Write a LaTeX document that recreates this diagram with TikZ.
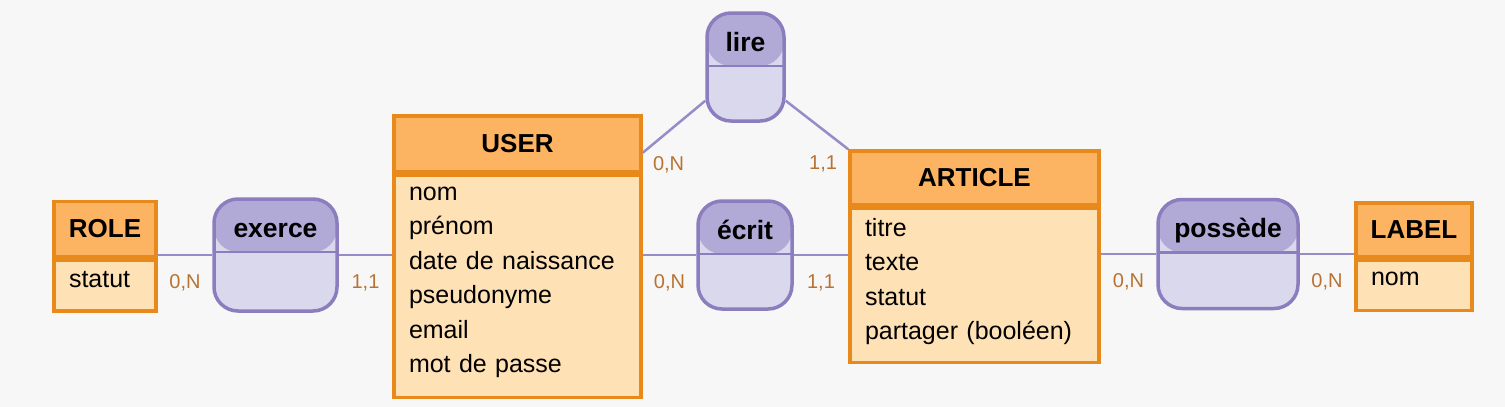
\documentclass[tikz,border=0pt]{standalone}
\usepackage{fontspec}
\setmainfont{Liberation Sans}
\usepackage{xcolor}
\usepackage{tikz}
\usetikzlibrary{positioning, calc}

\definecolor{bgcol}{RGB}{247,247,247}
\definecolor{entline}{RGB}{232,137,28}
\definecolor{enthd}{RGB}{253,180,98}
\definecolor{entbd}{RGB}{255,225,182}
\definecolor{relline}{RGB}{140,126,190}
\definecolor{relhd}{RGB}{177,170,214}
\definecolor{relbd}{RGB}{218,216,236}
\definecolor{linkcol}{RGB}{150,140,200}
\definecolor{cardcol}{RGB}{184,115,50}

\tikzset{
  enthead/.style={draw=entline, line width=3.5pt, fill=enthd, inner sep=0pt,
    font=\fontsize{26}{30}\selectfont\bfseries},
  entbody/.style={draw=entline, line width=3.5pt, fill=entbd, anchor=north,
    align=left, inner xsep=15pt, font=\fontsize{25}{34.5}\selectfont,
    execute at end node={\rule[-13pt]{0pt}{1pt}}},
  rel/.style 2 args={draw=relline, line width=3.5pt, fill=relbd, rounded corners=24pt,
    minimum width=#1, minimum height=#2, inner sep=0pt,
    path picture={
      \fill[relhd] (path picture bounding box.north west)
        rectangle ([yshift=-53pt]path picture bounding box.north east);
      \draw[relline, line width=2.5pt] ([yshift=-53pt]path picture bounding box.north west)
        -- ([yshift=-53pt]path picture bounding box.north east);
    }},
  relname/.style={anchor=center, yshift=-33.5pt, inner sep=0pt,
    text height=18pt, text depth=5pt,
    font=\fontsize{26.5}{30}\selectfont\bfseries},
  link/.style={draw=linkcol, line width=2.5pt},
  card/.style={text=cardcol, inner sep=0pt, font=\fontsize{20}{24}\selectfont},
}

\begin{document}
\begin{tikzpicture}[x=1pt, y=-1pt]
  \fill[bgcol] (0,0) rectangle (1505,407);

  % Entities (header + attribute box)
  \node[enthead, minimum width=102pt, minimum height=55pt] (role) at (105,229) {ROLE};
  \node[entbody, text width=72pt, minimum height=51pt] (role-b) at (role.south) {statut};

  \node[enthead, minimum width=247pt, minimum height=56pt] (user) at (517.5,144) {USER};
  \node[entbody, text width=217pt, minimum height=222pt] (user-b) at (user.south)
    {nom\\prénom\\date de naissance\\pseudonyme\\email\\mot de passe};

  \node[enthead, minimum width=249pt, minimum height=54pt] (article) at (974.5,178) {ARTICLE};
  \node[entbody, text width=219pt, minimum height=154pt] (article-b) at (article.south)
    {titre\\texte\\statut\\partager (booléen)};

  \node[enthead, minimum width=116pt, minimum height=54pt] (lab) at (1414,230) {LABEL};
  \node[entbody, text width=86pt, minimum height=50pt] (lab-b) at (lab.south) {nom};

  % Associations
  \node[rel={123pt}{112pt}, label={[relname]north:exerce}] (exerce) at (275.5,255) {};
  \node[rel={77pt}{108pt}, label={[relname]north:lire}] (lire) at (745.5,67) {};
  \node[rel={94pt}{108pt}, label={[relname]north:écrit}] (ecrit) at (745,255) {};
  \node[rel={140pt}{109pt}, label={[relname]north:possède}] (possede) at (1228,254) {};

  % Links with cardinalities
  \draw[link] (exerce.west) -- (exerce.west -| role.east)
    node[card, midway, below=18pt] {0,N};
  \draw[link] (exerce.east) -- (exerce.east -| user-b.west)
    node[card, midway, below=18pt] {1,1};
  \draw[link] (ecrit.west) -- (ecrit.west -| user-b.east)
    node[card, midway, below=18pt] {0,N};
  \draw[link] (ecrit.east) -- (ecrit.east -| article-b.west)
    node[card, midway, below=18pt] {1,1};
  \draw[link] (possede.west) -- (possede.west -| article-b.east)
    node[card, midway, below=18pt] {0,N};
  \draw[link] (possede.east) -- (possede.east -| lab.west)
    node[card, midway, below=18pt] {0,N};
  \draw[link] (lire.-140) -- (user.-4)
    node[card, at end, anchor=north west, xshift=9pt, yshift=-3pt] {0,N};
  \draw[link] (lire.-40) -- (article.north west)
    node[card, at end, anchor=north east, xshift=-10pt, yshift=-5pt] {1,1};
\end{tikzpicture}
\end{document}
